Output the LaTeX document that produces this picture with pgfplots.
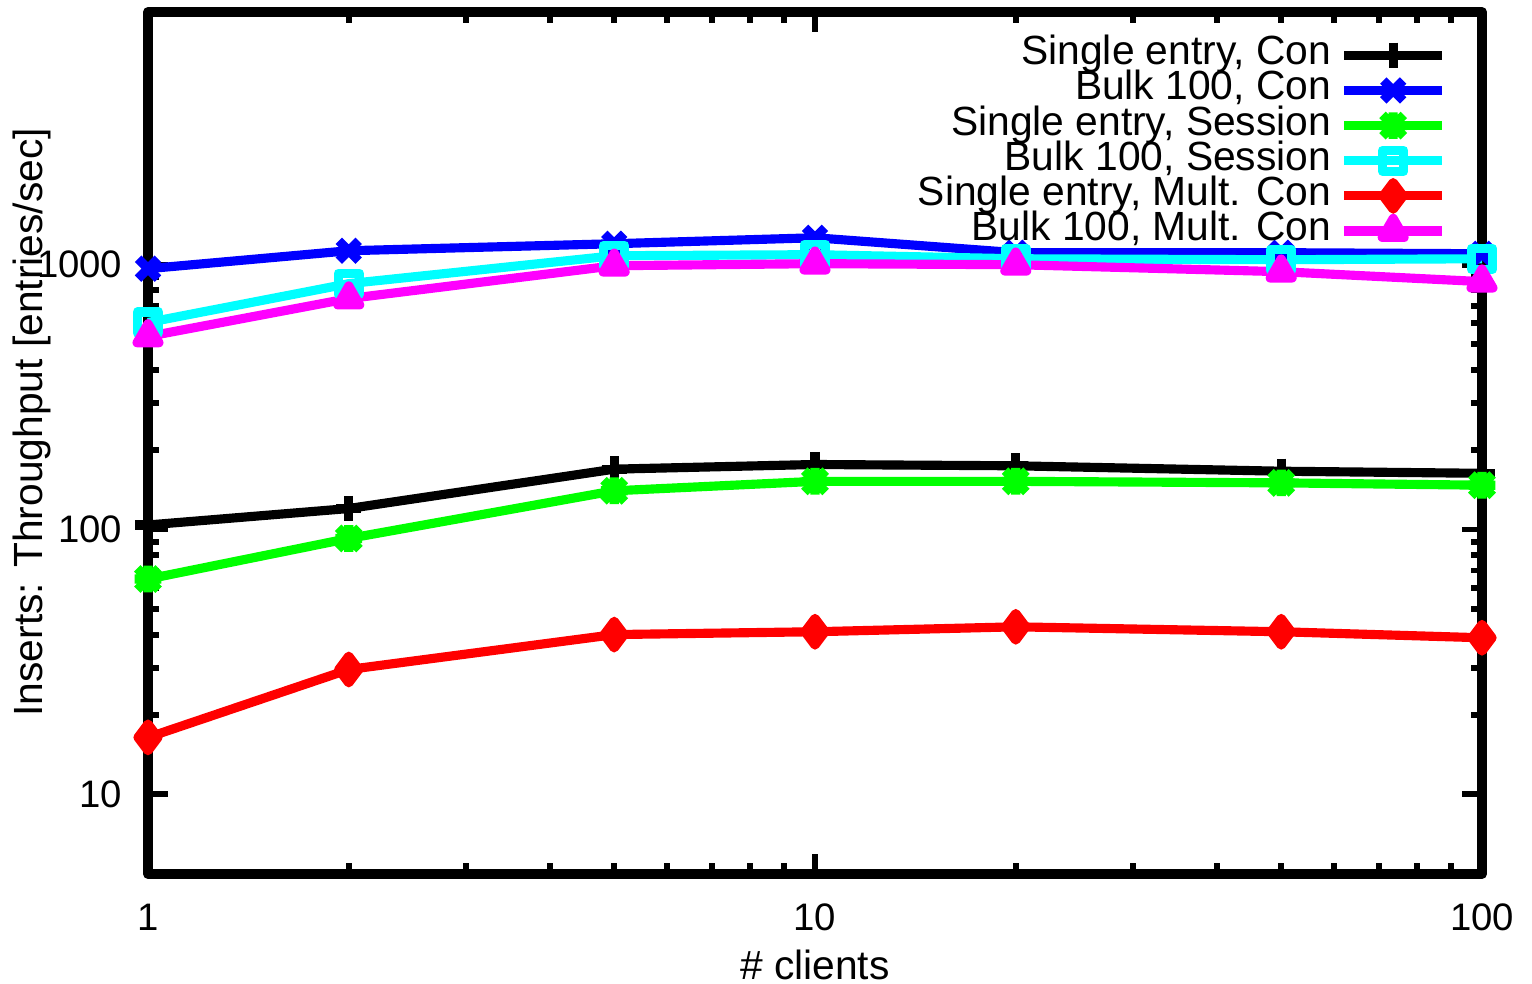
\documentclass[border=0pt]{standalone}
\usepackage{fontspec}
\setmainfont{Liberation Sans}
\usepackage{pgfplots}
\pgfplotsset{compat=1.18}

% gnuplot-like "*" point: plus and cross together
\pgfdeclareplotmark{gpstar}{%
  \pgfpathmoveto{\pgfqpoint{-\pgfplotmarksize}{0pt}}%
  \pgfpathlineto{\pgfqpoint{\pgfplotmarksize}{0pt}}%
  \pgfpathmoveto{\pgfqpoint{0pt}{-\pgfplotmarksize}}%
  \pgfpathlineto{\pgfqpoint{0pt}{\pgfplotmarksize}}%
  \pgfpathmoveto{\pgfqpoint{-.8\pgfplotmarksize}{-.8\pgfplotmarksize}}%
  \pgfpathlineto{\pgfqpoint{.8\pgfplotmarksize}{.8\pgfplotmarksize}}%
  \pgfpathmoveto{\pgfqpoint{-.8\pgfplotmarksize}{.8\pgfplotmarksize}}%
  \pgfpathlineto{\pgfqpoint{.8\pgfplotmarksize}{-.8\pgfplotmarksize}}%
  \pgfusepathqstroke}

\definecolor{gpblue}{RGB}{0,0,255}
\definecolor{gpgreen}{RGB}{0,255,0}
\definecolor{gpcyan}{RGB}{0,255,255}
\definecolor{gpred}{RGB}{255,0,0}
\definecolor{gpmag}{RGB}{255,0,255}

\begin{document}
\begin{tikzpicture}
\path[use as bounding box] (-14.8mm,-10.9mm) rectangle (138.4mm,87.4mm);
\begin{loglogaxis}[
  scale only axis,
  width=133.4mm, height=86.2mm,
  xmin=1, xmax=100, ymin=5, ymax=9000,
  xtick={1,10,100}, xticklabels={1,10,100},
  ytick={10,100,1000}, yticklabels={10,100,1000},
  clip=false,
  font=\fontsize{11.6}{13}\selectfont,
  ticklabel style={font=\fontsize{10.9}{12}\selectfont},
  axis line style={line width=2.8pt, line join=round},
  every tick/.style={black, line width=1.7pt},
  major tick length=2mm, minor tick length=1.1mm,
  xticklabel style={inner sep=0pt, anchor=north, yshift=-2.9mm},
  yticklabel style={inner sep=0pt, anchor=east, xshift=-2.5mm},
  xlabel={\# clients},
  ylabel={Inserts: Throughput [entries/sec]},
  xlabel style={at={(axis description cs:0.5,-0.1056)}, anchor=center, inner sep=0pt},
  ylabel style={at={(axis description cs:-0.087,0.524)}, anchor=center, inner sep=0pt},
  every axis plot/.append style={line width=2.6pt, line join=round},
  legend plot pos=right,
  legend cell align=right,
  legend image code/.code={%
    \draw[mark repeat=2,mark phase=2] plot coordinates {(0mm,0mm) (4.9mm,0mm) (9.8mm,0mm)};},
  legend style={draw=none, fill=none, at={(rel axis cs:1,1)}, anchor=north east,
    xshift=-2.4mm, yshift=-1.8mm, row sep=0pt,
    nodes={inner ysep=0pt, inner xsep=0.85mm, text height=7.7pt, text depth=2.3pt},
    font=\fontsize{11.6}{13}\selectfont},
]
\addplot[black, mark=+, mark size=3.6pt] coordinates {
  (1,104) (2,120) (5,169) (10,176) (20,174) (50,166) (100,163)};
\addlegendentry{Single entry, Con}
\addplot[gpblue, mark=x, mark size=4pt] coordinates {
  (1,966) (2,1129) (5,1200) (10,1264) (20,1110) (50,1110) (100,1100)};
\addlegendentry{Bulk 100, Con}
\addplot[gpgreen, mark=gpstar, mark size=3.8pt] coordinates {
  (1,65) (2,92.5) (5,140) (10,152) (20,152) (50,150) (100,147)};
\addlegendentry{Single entry, Session}
\addplot[gpcyan, mark=square, mark size=3pt] coordinates {
  (1,605) (2,848) (5,1081) (10,1091) (20,1053) (50,1044) (100,1053)};
\addlegendentry{Bulk 100, Session}
\addplot[gpred, mark=diamond*, mark size=3.8pt] coordinates {
  (1,16.4) (2,29.6) (5,40.1) (10,41.1) (20,42.9) (50,41.1) (100,39.0)};
\addlegendentry{Single entry, Mult. Con}
\addplot[gpmag, mark=triangle*, mark size=3.6pt] coordinates {
  (1,536) (2,745) (5,991) (10,1009) (20,1000) (50,941) (100,863)};
\addlegendentry{Bulk 100, Mult. Con}
\end{loglogaxis}
\end{tikzpicture}
\end{document}
